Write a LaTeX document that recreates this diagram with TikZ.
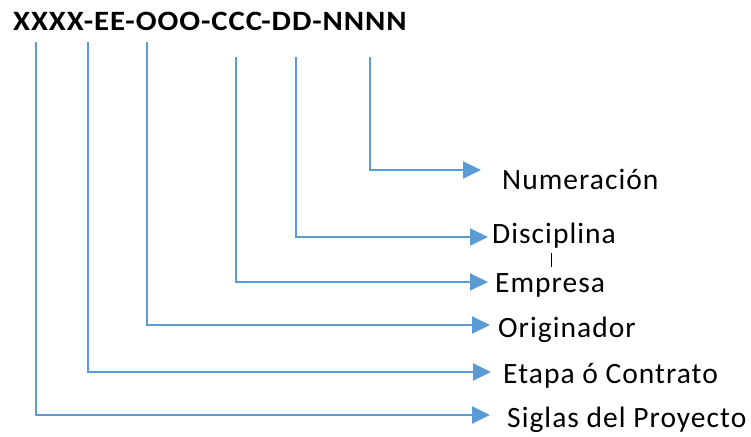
\documentclass[tikz,border=0pt]{standalone}
\usepackage{fontspec}
\setmainfont{Carlito}
\newfontfamily\lblfont[LetterSpace=3.5]{Carlito}
\newfontfamily\codefont[LetterSpace=3]{Carlito}
\usetikzlibrary{arrows.meta}
\definecolor{linkblue}{HTML}{5B9BD5}
\begin{document}
\begin{tikzpicture}[x=1pt,y=-1pt,
  conn/.style={draw=linkblue,line width=2pt,
    -{Triangle[length=18pt,width=17pt]}},
  lbl/.style={anchor=base west,inner sep=0pt,font=\lblfont\fontsize{29.5}{32}\selectfont},
  code/.style={anchor=base west,inner sep=0pt,xscale=1.1,
    font=\codefont\fontsize{28}{32}\selectfont\bfseries}]
\useasboundingbox (0,0) rectangle (751,436);
\fill[white] (0,0) rectangle (751,436);

% code template
\node[code] (code) at (13,31) {XXXX-EE-OOO-CCC-DD-NNNN};

% field descriptions
\node[lbl] (num) at (502,189) {Numeración};
\node[lbl] (dis) at (492,243) {Disciplina};
\node[lbl] (emp) at (495,292) {Empresa};
\node[lbl] (ori) at (498,337) {Originador};
\node[lbl] (eta) at (503,383) {Etapa ó Contrato};
\node[lbl] (sig) at (507,427) {Siglas del Proyecto};

% starting points under each field of the code
\coordinate (s1) at (36,42);
\coordinate (s2) at (88,42);
\coordinate (s3) at (147,42);
\coordinate (s4) at (236,57);
\coordinate (s5) at (296,57);
\coordinate (s6) at (370,57);

% arrow ends
\coordinate (e1) at (490,415);
\coordinate (e2) at (491,372);
\coordinate (e3) at (490,325);
\coordinate (e4) at (488,282);
\coordinate (e5) at (488,237);
\coordinate (e6) at (481,170);

\draw[conn] (s1) |- (e1);
\draw[conn] (s2) |- (e2);
\draw[conn] (s3) |- (e3);
\draw[conn] (s4) |- (e4);
\draw[conn] (s5) |- (e5);
\draw[conn] (s6) |- (e6);

% small mark between Disciplina and Empresa
\coordinate (m1) at (551,253);
\coordinate (m2) at (551,267);
\draw[line width=1pt] (m1) -- (m2);
\end{tikzpicture}
\end{document}
